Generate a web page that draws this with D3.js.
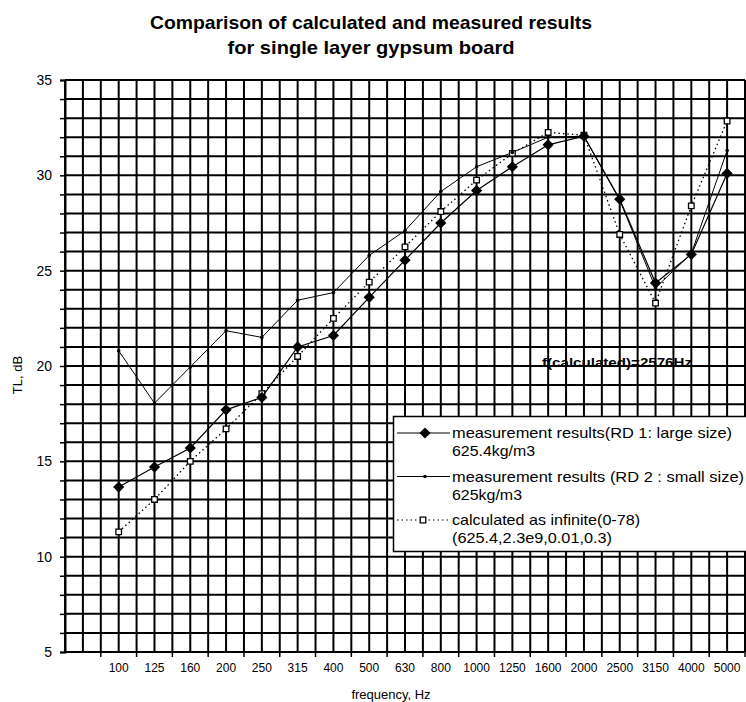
<!DOCTYPE html>
<html>
<head>
<meta charset="utf-8">
<script src="https://cdn.jsdelivr.net/npm/d3@7"></script>
<style>
  html, body { margin: 0; padding: 0; background: #fff; }
  svg { display: block; font-family: Arial, "Liberation Sans", sans-serif; }
</style>
</head>
<body>
<svg id="chart" width="746" height="702"></svg>
<script>
// ---- data ----
const categories = ["100","125","160","200","250","315","400","500","630","800","1000","1250","1600","2000","2500","3150","4000","5000"];
const rd1Values  = [13.65,14.7,15.7,17.7,18.35,21.0,21.6,23.6,25.55,27.5,29.2,30.45,31.6,32.05,28.75,24.35,25.85,30.1];
const rd2Values  = [20.8,18.05,19.95,21.85,21.5,23.45,23.85,25.8,27.1,29.15,30.45,31.2,32.0,32.05,28.7,24.1,25.9,31.3];
const calcValues = [11.3,13.0,15.0,16.7,18.55,20.5,22.5,24.4,26.25,28.1,29.75,31.15,32.25,32.1,26.9,23.3,28.4,32.85];
const yTickValues = [5,10,15,20,25,30,35];
const titleLines = ["Comparison of calculated and measured results", "for single layer gypsum board"];
const legendEntries = [
  ["measurement results(RD 1: large size)", "625.4kg/m3"],
  ["measurement results (RD 2 : small size)", "625kg/m3"],
  ["calculated as infinite(0-78)", "(625.4,2.3e9,0.01,0.3)"]
];
const annotationText = "f(calculated)=2576Hz";

// ---- layout ----
const svg = d3.select("#chart");
const plotLeft = 65, plotRight = 745, plotTop = 80, plotBottom = 652;
const firstBand = 100.8;

const x = d3.scaleBand().domain(categories).range([firstBand, plotRight]).padding(0);
const bw = x.bandwidth();
const cx = c => x(c) + bw / 2;
const y = d3.scaleLinear().domain([5, 35]).range([plotBottom, plotTop]);

// plot background
svg.append("rect").attr("x", plotLeft).attr("y", plotTop)
  .attr("width", plotRight - plotLeft).attr("height", plotBottom - plotTop).attr("fill", "#fff");

// grid
const grid = svg.append("g").attr("stroke", "#000").attr("stroke-width", 2);
d3.range(5, 36, 1).forEach(v => {
  grid.append("line").attr("x1", plotLeft).attr("x2", plotRight).attr("y1", y(v)).attr("y2", y(v));
});
d3.range(0, 39).map(i => plotRight - i * bw / 2).filter(p => p >= plotLeft - 1).forEach(p => {
  grid.append("line").attr("x1", p).attr("x2", p).attr("y1", plotTop).attr("y2", plotBottom);
});

// y axis
const yAxis = d3.axisLeft(y).tickValues(d3.range(5, 36, 1)).tickSize(5)
  .tickFormat(d => yTickValues.includes(d) ? d : "");
const gy = svg.append("g").attr("transform", `translate(${plotLeft},0)`).call(yAxis);
gy.select(".domain").attr("stroke-width", 2);
gy.selectAll(".tick line").attr("stroke-width", 1.5);
gy.selectAll(".tick text").attr("font-size", 14).attr("font-family", "Arial, 'Liberation Sans', sans-serif")
  .attr("x", -13).attr("fill", "#000");

// x axis
const xAxis = d3.axisBottom(x).tickSize(0).tickFormat(d => d);
const gx = svg.append("g").attr("transform", `translate(0,${plotBottom})`).call(xAxis);
gx.select(".domain").remove();
gx.selectAll(".tick text").attr("font-size", 12).attr("font-family", "Arial, 'Liberation Sans', sans-serif")
  .attr("y", 11).attr("fill", "#000");
svg.append("line").attr("x1", plotLeft).attr("x2", plotRight).attr("y1", plotBottom).attr("y2", plotBottom)
  .attr("stroke", "#000").attr("stroke-width", 2);
const boundaries = categories.map(c => x(c)).concat([plotRight]);
boundaries.forEach(b => {
  svg.append("line").attr("x1", b).attr("x2", b).attr("y1", plotBottom).attr("y2", plotBottom + 5)
    .attr("stroke", "#000").attr("stroke-width", 1.5);
});

// titles
svg.append("text").attr("x", 371).attr("y", 29).attr("text-anchor", "middle")
  .attr("font-size", 19).attr("font-weight", "bold")
  .attr("textLength", 442).attr("lengthAdjust", "spacingAndGlyphs").text(titleLines[0]);
svg.append("text").attr("x", 371).attr("y", 54).attr("text-anchor", "middle")
  .attr("font-size", 19).attr("font-weight", "bold")
  .attr("textLength", 287).attr("lengthAdjust", "spacingAndGlyphs").text(titleLines[1]);
svg.append("text").attr("transform", "translate(22,375) rotate(-90)").attr("text-anchor", "middle")
  .attr("font-size", 13).text("TL, dB");
svg.append("text").attr("x", 391).attr("y", 699).attr("text-anchor", "middle")
  .attr("font-size", 13).text("frequency, Hz");

// series
const lineGen = vals => d3.line().x((d, i) => cx(categories[i])).y(d => y(d))(vals);

svg.append("path").attr("d", lineGen(calcValues)).attr("fill", "none")
  .attr("stroke", "#000").attr("stroke-width", 1.3).attr("stroke-dasharray", "1.5,3");
svg.append("path").attr("d", lineGen(rd2Values)).attr("fill", "none")
  .attr("stroke", "#000").attr("stroke-width", 1);
svg.append("path").attr("d", lineGen(rd1Values)).attr("fill", "none")
  .attr("stroke", "#000").attr("stroke-width", 1.2);

const diamond = d3.symbol().type(d3.symbolDiamond2).size(80);
const square = d3.symbol().type(d3.symbolSquare2).size(40);

svg.append("g").selectAll("path").data(calcValues).join("path")
  .attr("transform", (d, i) => `translate(${cx(categories[i])},${y(d)})`)
  .attr("d", square).attr("fill", "#fff").attr("stroke", "#000").attr("stroke-width", 1.3);
svg.append("g").selectAll("circle").data(rd2Values).join("circle")
  .attr("cx", (d, i) => cx(categories[i])).attr("cy", d => y(d)).attr("r", 1.8).attr("fill", "#000");
svg.append("g").selectAll("path").data(rd1Values).join("path")
  .attr("transform", (d, i) => `translate(${cx(categories[i])},${y(d)})`)
  .attr("d", diamond).attr("fill", "#000");

// annotation
svg.append("text").attr("x", 542).attr("y", 367).attr("font-size", 12).attr("font-weight", "bold")
  .attr("textLength", 150).attr("lengthAdjust", "spacingAndGlyphs").text(annotationText);

// legend
const lg = svg.append("g");
lg.append("rect").attr("x", 393.5).attr("y", 416.5).attr("width", 360).attr("height", 135)
  .attr("fill", "#fff").attr("stroke", "#000").attr("stroke-width", 1.5);
const rowY = [433, 476.5, 520];
const legendWidths = [[280, 83], [292, 70], [188, 160]];
legendEntries.forEach((e, i) => {
  const yy = rowY[i];
  const ln = lg.append("line").attr("x1", 397).attr("x2", 450).attr("y1", yy).attr("y2", yy)
    .attr("stroke", "#000").attr("stroke-width", 1.2);
  if (i === 2) ln.attr("stroke-dasharray", "1.5,3");
  if (i === 0) lg.append("path").attr("transform", `translate(425,${yy})`).attr("d", diamond).attr("fill", "#000");
  if (i === 1) lg.append("circle").attr("cx", 425).attr("cy", yy).attr("r", 1.8).attr("fill", "#000");
  if (i === 2) lg.append("path").attr("transform", `translate(423,${yy})`).attr("d", square)
    .attr("fill", "#fff").attr("stroke", "#000").attr("stroke-width", 1.3);
  lg.append("text").attr("x", 452).attr("y", yy + 5).attr("font-size", 15)
    .attr("textLength", legendWidths[i][0]).attr("lengthAdjust", "spacingAndGlyphs").text(e[0]);
  lg.append("text").attr("x", 452).attr("y", yy + 23).attr("font-size", 15)
    .attr("textLength", legendWidths[i][1]).attr("lengthAdjust", "spacingAndGlyphs").text(e[1]);
});
</script>
</body>
</html>
